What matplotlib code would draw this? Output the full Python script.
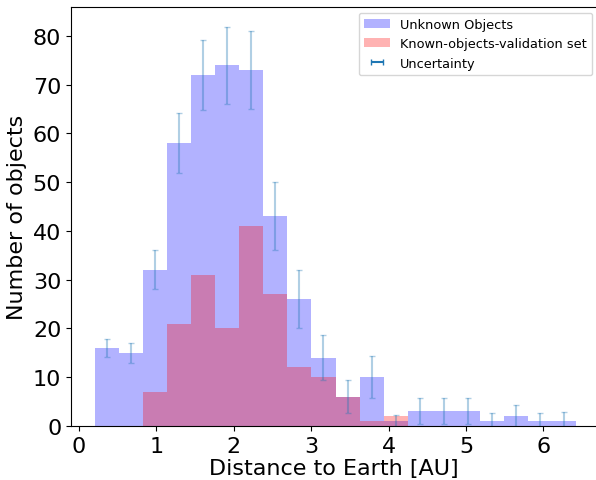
import numpy as np
import matplotlib
matplotlib.use("Agg")
import matplotlib.pyplot as plt

# bin edges (AU)
bin_start = 0.21
bin_stop = 6.42
n_bins = 20
edges = np.linspace(bin_start, bin_stop, n_bins + 1)

unknown_counts = [16, 15, 32, 58, 72, 74, 73, 43, 26, 14,
                  6, 10, 1, 3, 3, 3, 1, 2, 1, 1]
known_counts = [0, 0, 7, 21, 31, 20, 41, 27, 12, 10,
                6, 1, 2, 0, 0, 0, 0, 0, 0, 0]
uncertainty = [1.9, 2.1, 4.0, 6.1, 7.2, 7.9, 7.95, 7.0, 5.9, 4.6,
               3.35, 4.3, 1.3, 2.65, 2.65, 2.65, 1.6, 2.3, 1.75, 1.8]

centers = 0.5 * (edges[:-1] + edges[1:])

fig = plt.figure(figsize=(5.96, 4.81), dpi=100)
ax = fig.add_axes([71/596, 1-427/481, 1-71/596, (427-8)/481])

ax.hist(centers, bins=edges, weights=unknown_counts, color='blue', alpha=0.3,
        label='Unknown Objects')
ax.hist(centers, bins=edges, weights=known_counts, color='red', alpha=0.3,
        label='Known-objects-validation set')
ax.errorbar(centers, unknown_counts, yerr=uncertainty, fmt='none',
            ecolor='C0', elinewidth=1.5, capsize=2.5, alpha=0.35)
# legend proxy for the uncertainty (horizontal bar glyph)
ax.errorbar([np.nan], [np.nan], xerr=[1.0], fmt='none', ecolor='C0',
            elinewidth=1.5, capsize=2.5, label='Uncertainty')

ax.set_xlim(-0.102, 6.68)
ax.set_ylim(0, 85.9)
ax.spines['right'].set_visible(False)
ax.tick_params(labelsize=16)
ax.set_xlabel('Distance to Earth [AU]', fontsize=16, labelpad=2)
ax.set_ylabel('Number of objects', fontsize=16)

ax.legend(loc='upper right', fontsize=9.3, bbox_to_anchor=(1.005, 1.0014))

fig.savefig('out.png', dpi=100)
